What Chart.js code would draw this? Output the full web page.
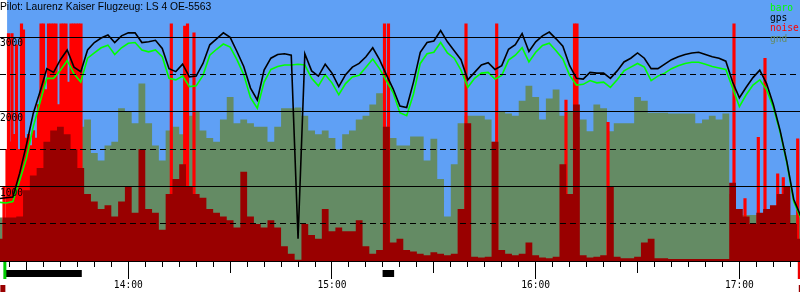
<!DOCTYPE html>
<html><head><meta charset="utf-8">
<script src="https://cdn.jsdelivr.net/npm/chart.js@4.4.1/dist/chart.umd.min.js"></script>
<style>html,body{margin:0;padding:0;background:#fff;}canvas{display:block;}</style>
</head><body>
<canvas id="c" width="800" height="300"></canvas>
<script>
// ---- data (time axis = minutes of the day; samples every 2 minutes from 13:22) ----
const sampleStart = 802;   // 13:22
const sampleStep = 2;      // minutes

const gps = [
  840, 850, 860, 1180, 1560, 1980, 2270, 2580, 2530, 2700,
  2830, 2600, 2540, 2830, 2930, 2990, 3030, 2930, 3020, 3060,
  3060, 2930, 2940, 2960, 2850, 2580, 2540, 2640, 2470, 2480,
  2650, 2900, 2980, 3060, 3000, 2810, 2610, 2320, 2160, 2560,
  2720, 2770, 2780, 2760, 300, 2780, 2550, 2480, 2640, 2520,
  2340, 2500, 2600, 2650, 2740, 2860, 2700, 2500, 2310, 2080,
  2060, 2400, 2800, 2930, 2950, 3090, 2940, 2820, 2700, 2430,
  2530, 2630, 2660, 2570, 2620, 2840, 2900, 3050, 2810, 2940,
  3020, 3070, 2980, 2880, 2620, 2450, 2440, 2530, 2520, 2520,
  2450, 2550, 2670, 2720, 2790, 2720, 2580, 2580, 2640, 2700,
  2740, 2770, 2790, 2800, 2770, 2740, 2720, 2680, 2400, 2190,
  2330, 2460, 2560, 2380, 2100, 1750, 1330, 830, 610
];
const baro = [
  790, 780, 800, 1080, 1380, 1800, 2130, 2450, 2450, 2560,
  2690, 2510, 2400, 2720, 2790, 2860, 2895, 2770, 2860, 2920,
  2930, 2830, 2805, 2830, 2740, 2450, 2430, 2480, 2340, 2350,
  2490, 2760, 2840, 2910, 2870, 2700, 2500, 2190, 2050, 2400,
  2570, 2610, 2630, 2630, 2640, 2630, 2450, 2350, 2500, 2390,
  2230, 2380, 2470, 2490, 2600, 2710, 2580, 2420, 2260, 1990,
  1950, 2240, 2650, 2780, 2800, 2930, 2790, 2720, 2560, 2330,
  2450, 2520, 2530, 2440, 2490, 2695, 2760, 2860, 2670, 2800,
  2890, 2920, 2820, 2710, 2490, 2360, 2370, 2420, 2390, 2400,
  2330, 2430, 2550, 2600, 2650, 2600, 2420, 2480, 2520, 2580,
  2620, 2650, 2665, 2665, 2640, 2610, 2590, 2570, 2320, 2070,
  2230, 2360, 2430, 2300, 2060, 1730, 1310, 800, 585
];
const gnd = [
  585, 560, 560, 600, 650, 700, 800, 900, 1000, 1100,
  1200, 1300, 1800, 1900, 1450, 1350, 1550, 1600, 2050, 2000,
  1850, 2380, 1850, 1550, 1350, 1750, 1800, 1700, 1950, 2000,
  1750, 1650, 1600, 1900, 2200, 1850, 1900, 1850, 1800, 1800,
  1600, 1800, 2050, 2050, 2060, 1950, 1750, 1700, 1750, 1650,
  1500, 1700, 1750, 1900, 1950, 2100, 2250, 1800, 1650, 1550,
  1550, 1670, 1670, 1350, 1640, 1100, 600, 1300, 1850, 1950,
  1950, 1950, 1900, 1600, 2000, 1980, 1950, 2150, 2350, 2200,
  1900, 2180, 2300, 1950, 2000, 1800, 1900, 1740, 2100, 2050,
  1740, 1850, 1850, 1850, 2200, 2150, 1990, 1990, 1990, 1980,
  1980, 1980, 1980, 1850, 1900, 1950, 1900, 1980, 900, 620,
  620, 620, 620, 620, 620, 800, 850, 620, 620
];
const noiseBase = [
  300, 585, 585, 600, 950, 1150, 1250, 1600, 1750, 1800,
  1700, 1500, 1250, 900, 800, 700, 750, 600, 800, 1000,
  650, 1500, 700, 650, 420, 900, 1100, 1300, 1000, 900,
  850, 700, 650, 600, 550, 450, 1200, 600, 500, 450,
  550, 450, 200, 100, 20, 500, 350, 300, 700, 400,
  450, 400, 400, 550, 200, 100, 150, 1800, 250, 300,
  150, 130, 100, 80, 120, 100, 80, 100, 700, 1850,
  60, 50, 60, 1600, 150, 100, 80, 100, 250, 80,
  50, 40, 60, 1300, 900, 2100, 80, 50, 60, 80,
  1000, 60, 40, 40, 60, 250, 300, 40, 40, 30,
  30, 30, 30, 30, 30, 30, 30, 30, 1050, 700,
  600, 500, 650, 700, 750, 900, 1000, 500, 300
];
// noise peaks (minute of day, value)
const noiseTimes = [
  803.39, 804.27, 804.71, 805.16, 805.74, 806.33, 807.07, 807.81, 808.54, 809.13,
  809.87, 810.60, 811.34, 812.08, 812.81, 813.55, 814.29, 815.02, 815.76, 816.50,
  817.23, 817.97, 818.70, 819.44, 820.18, 820.91, 821.65, 822.39, 823.12, 823.86,
  824.60, 825.33, 826.07,
  852.67, 856.61, 857.44, 859.35, 915.46, 916.64, 939.47, 948.51, 968.92, 971.43,
  972.16, 981.30, 1018.41, 1021.65, 1025.57, 1027.54, 1031.28, 1032.93, 1037.17
];
const noiseValues = [
  1000, 1500, 3050, 1600, 3050, 1700, 2900, 1500, 3180, 3100,
  1650, 1700, 1550, 1750, 1650, 2100, 3180, 3180, 2300, 3180,
  3180, 3180, 3180, 2100, 3180, 3180, 3180, 2400, 3180, 3180,
  3180, 3180, 3180,
  3180, 3150, 3180, 3060, 3180, 3180, 3180, 3180, 2160, 3180,
  3180, 1860, 3180, 840, 1660, 2720, 1170, 1120, 1640
];
// intervals marked under the time axis (minute of day)
const markedIntervals = [[803.4, 826.3], [914.9, 918.3]];
const takeoffTime = 803.2;
const landingTime = 1037.2;
const skyStart = 804.3;
const axisMin = 802.21, axisMax = 1037.85;
const yMin = 0, yMax = 3500, yStep = 500;

const titleText = 'Pilot: Laurenz Kaiser Flugzeug: LS 4 OE-5563';
const legendLabels = ['baro', 'gps', 'noise', 'gnd'];

// ---- styles ----
const SKY = '#5fa0f5', GND = '#648b64', DARKRED = '#990000', RED = '#ff0000', GREEN = '#00ff00';
const legendColors = [GREEN, '#000000', RED, GND];
const MONO = "'DejaVu Sans Mono', 'Liberation Mono', monospace";

const times = gps.map((_, i) => sampleStart + i * sampleStep);
const pts = arr => arr.map((v, i) => ({x: times[i], y: v}));
const fmt = v => Math.floor(v / 60) + ':' + String(Math.round(v % 60)).padStart(2, '0');

const decor = {
  id: 'decor',
  beforeDraw(chart) {
    const {ctx, chartArea: a, scales: {x}} = chart;
    ctx.save();
    ctx.fillStyle = SKY;
    const x0 = x.getPixelForValue(skyStart);
    ctx.fillRect(x0, a.top, a.right - x0, a.bottom - a.top);
    ctx.restore();
  },
  afterDraw(chart) {
    const {ctx, chartArea: a, scales: {x}} = chart;
    const y0 = Math.round(a.bottom) + 1;
    ctx.save();
    // time ticks
    ctx.strokeStyle = '#000';
    ctx.lineWidth = 1;
    for (let t = 805; t <= 1035; t += 5) {
      const px = Math.floor(x.getPixelForValue(t)) + 0.5;
      const len = t % 60 === 0 ? 17 : (t % 30 === 0 ? 11 : 5);
      ctx.beginPath();
      ctx.moveTo(px, y0);
      ctx.lineTo(px, y0 + len);
      ctx.stroke();
    }
    // marked intervals
    ctx.fillStyle = '#000';
    markedIntervals.forEach(([s, e]) => {
      const xs = x.getPixelForValue(s), xe = x.getPixelForValue(e);
      ctx.fillRect(xs, y0 + 8, xe - xs, 7);
    });
    // takeoff / landing markers
    const xt = x.getPixelForValue(takeoffTime);
    ctx.fillStyle = '#00cc00';
    ctx.fillRect(xt, y0, 3, 17);
    ctx.fillStyle = DARKRED;
    ctx.fillRect(xt - 3, y0 + 23, 5, 7);
    const xl = x.getPixelForValue(landingTime);
    ctx.fillStyle = '#ee0000';
    ctx.fillRect(xl, y0, 3, 17);
    ctx.fillStyle = DARKRED;
    ctx.fillRect(xl + 1, y0 + 23, 5, 7);
    // title
    ctx.fillStyle = '#000';
    ctx.font = "10.3px 'Liberation Sans', Arial, sans-serif";
    ctx.textAlign = 'left';
    ctx.textBaseline = 'alphabetic';
    ctx.fillText(titleText, 0, 9.6);
    // legend
    ctx.font = '9.6px ' + MONO;
    legendLabels.forEach((l, i) => {
      ctx.fillStyle = legendColors[i];
      ctx.fillText(l, 770, 10.8 + i * 10.3);
    });
    ctx.restore();
  }
};

new Chart(document.getElementById('c'), {
  type: 'line',
  data: {
    datasets: [
      {label: 'gps', data: pts(gps), borderColor: '#000', borderWidth: 1.6, pointRadius: 0, tension: 0, fill: false},
      {label: 'baro', data: pts(baro), borderColor: GREEN, borderWidth: 1.6, pointRadius: 0, tension: 0, fill: false},
      {label: 'noise level', data: pts(noiseBase), stepped: 'middle', fill: 'origin', backgroundColor: DARKRED,
       borderColor: 'rgba(0,0,0,0)', borderWidth: 0, pointRadius: 0},
      {type: 'bar', label: 'noise', data: noiseTimes.map((t, i) => ({x: t, y: noiseValues[i]})),
       backgroundColor: RED, borderWidth: 0, barThickness: 2.5},
      {label: 'gnd', data: pts(gnd), stepped: 'middle', fill: 'origin', backgroundColor: GND,
       borderColor: 'rgba(0,0,0,0)', borderWidth: 0, pointRadius: 0}
    ]
  },
  options: {
    responsive: false,
    animation: false,
    events: [],
    layout: {padding: 0},
    plugins: {legend: {display: false}, tooltip: {enabled: false}, title: {display: false}},
    scales: {
      x: {
        type: 'linear', min: axisMin, max: axisMax, offset: false,
        grid: {drawOnChartArea: false, drawTicks: false},
        border: {display: false},
        ticks: {stepSize: 60, includeBounds: false, autoSkip: false, maxRotation: 0, padding: 18.5,
                color: '#000', font: {family: MONO, size: 9.6}, callback: v => fmt(v)},
        afterFit: s => { s.height = 38.8; s.paddingTop = 0; s.paddingBottom = 0; s.paddingLeft = 0; s.paddingRight = 0; }
      },
      y: {
        position: 'left', min: yMin, max: yMax,
        grid: {color: c => (c.tick && c.tick.value >= yMax) ? 'rgba(0,0,0,0)' : '#000', lineWidth: 1, drawTicks: false, z: 1},
        border: {display: false, dash: c => (c.tick && c.tick.value % 1000 !== 0) ? [6, 4] : []},
        ticks: {stepSize: yStep, mirror: true, padding: 0, labelOffset: 6.5, z: 2, autoSkip: false,
                color: '#000', font: {family: MONO, size: 9.6},
                callback: v => v >= yMax ? null : (v > 0 && v % 1000 === 0 ? String(v) : '')},
        afterFit: s => { s.width = 0; s.paddingTop = 0; s.paddingBottom = 0; }
      }
    }
  },
  plugins: [decor]
});
</script>
</body></html>
